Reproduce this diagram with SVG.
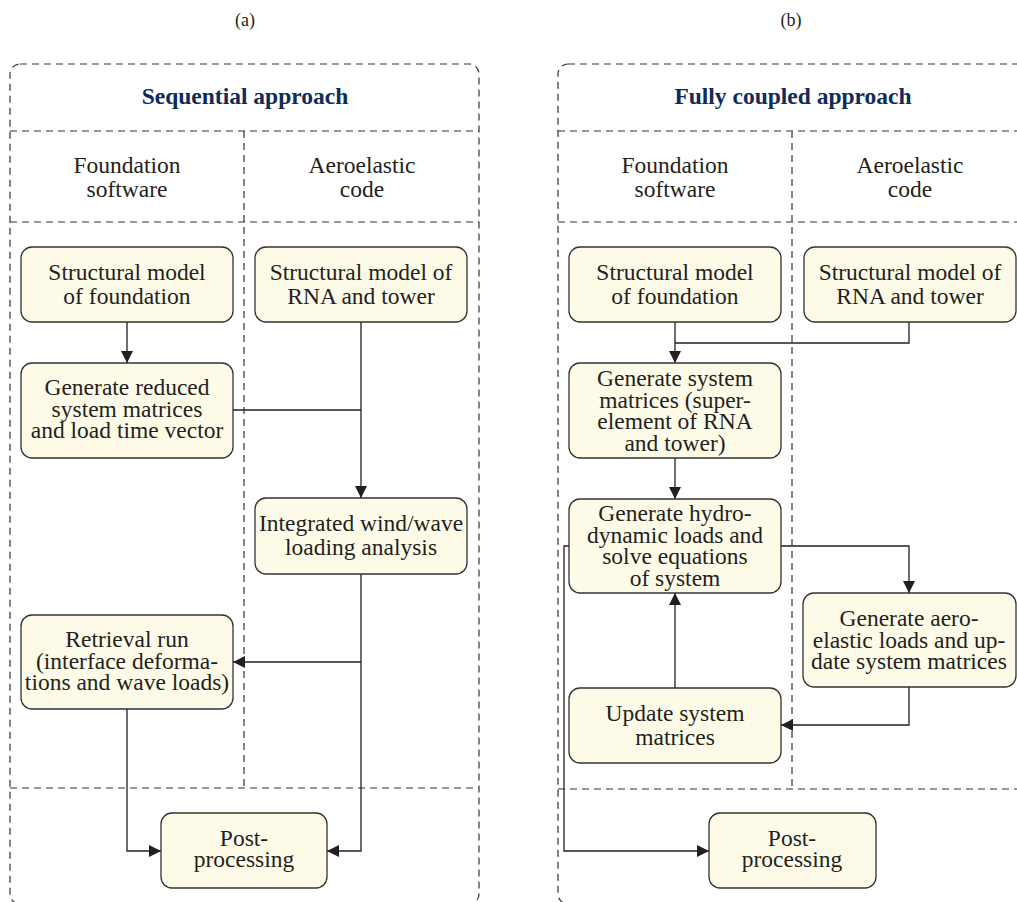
<svg xmlns="http://www.w3.org/2000/svg" width="1017" height="902" viewBox="0 0 1017 902">
<defs>
<marker id="ah" markerUnits="userSpaceOnUse" markerWidth="12" markerHeight="12" refX="12" refY="6" orient="auto">
<path d="M0,0 L12,6 L0,12 z" fill="#231f20"/>
</marker>
<style>
.t{font-family:"Liberation Serif","Times New Roman",serif;font-size:23.5px;fill:#231f20;text-anchor:middle}
.h{font-family:"Liberation Serif","Times New Roman",serif;font-size:23.5px;font-weight:bold;fill:#0f2b5b;text-anchor:middle}
.lbl{font-family:"Liberation Serif","Times New Roman",serif;font-size:18px;fill:#231f20;text-anchor:middle}
.d{fill:none;stroke:#333;stroke-width:1.2;stroke-dasharray:7 5}
.n{fill:#fdfbe8;stroke:#333;stroke-width:1.3}
.c{fill:none;stroke:#231f20;stroke-width:1.3}
.a{marker-end:url(#ah)}
</style>
</defs>
<rect width="1017" height="902" fill="#fff"/>
<text class="lbl" x="245" y="26">(a)</text>
<text class="lbl" x="791" y="26">(b)</text>

<g id="panel-a">
<rect class="d" x="10" y="64" width="469" height="840" rx="10"/>
<path class="d" d="M10,131 H479 M10,222 H479 M10,788 H479 M244,131 V788"/>
<text class="h" x="245" y="104">Sequential approach</text>
<text class="t" x="127" y="173">Foundation</text>
<text class="t" x="127" y="197">software</text>
<text class="t" x="362" y="173">Aeroelastic</text>
<text class="t" x="362" y="197">code</text>
</g>

<g id="panel-b">
<rect class="d" x="558" y="64" width="600" height="840" rx="10"/>
<path class="d" d="M558,131 H1017 M558,222 H1017 M558,789 H1017 M792,131 V789"/>
<text class="h" x="793" y="104">Fully coupled approach</text>
<text class="t" x="675" y="173">Foundation</text>
<text class="t" x="675" y="197">software</text>
<text class="t" x="910" y="173">Aeroelastic</text>
<text class="t" x="910" y="197">code</text>
</g>

<g id="connectors">
<path class="c a" d="M127,322 V363"/>
<path class="c a" d="M361,322 V498"/>
<path class="c" d="M233,410 H361"/>
<path class="c a" d="M361,574 V851 H327"/>
<path class="c a" d="M361,662 H233"/>
<path class="c a" d="M127,709 V851 H161"/>
<path class="c a" d="M675,322 V363"/>
<path class="c" d="M909,322 V343 H675"/>
<path class="c a" d="M675,458 V499"/>
<path class="c a" d="M781,546 H909 V593"/>
<path class="c a" d="M569,546 H564 V851 H709"/>
<path class="c a" d="M675,688 V593"/>
<path class="c a" d="M909,687 V725 H781"/>
</g>

<g id="a-struct-foundation">
<rect class="n" x="21" y="247" width="212" height="75" rx="11"/>
<text class="t" x="127" y="280">Structural model</text>
<text class="t" x="127" y="304">of foundation</text>
</g>
<g id="a-struct-rna">
<rect class="n" x="255" y="247" width="212" height="75" rx="11"/>
<text class="t" x="361" y="280">Structural model of</text>
<text class="t" x="361" y="304">RNA and tower</text>
</g>
<g id="a-generate-reduced">
<rect class="n" x="21" y="363" width="212" height="95" rx="11"/>
<text class="t" x="127" y="395">Generate reduced</text>
<text class="t" x="127" y="416.5">system matrices</text>
<text class="t" x="127" y="438">and load time vector</text>
</g>
<g id="a-integrated">
<rect class="n" x="255" y="498" width="212" height="76" rx="11"/>
<text class="t" x="361" y="531">Integrated wind/wave</text>
<text class="t" x="361" y="554.5">loading analysis</text>
</g>
<g id="a-retrieval">
<rect class="n" x="21" y="615" width="212" height="94" rx="11"/>
<text class="t" x="127" y="647">Retrieval run</text>
<text class="t" x="127" y="668.5">(interface deforma-</text>
<text class="t" x="127" y="690">tions and wave loads)</text>
</g>
<g id="a-post">
<rect class="n" x="161" y="813" width="166" height="75" rx="11"/>
<text class="t" x="244" y="846">Post-</text>
<text class="t" x="244" y="867">processing</text>
</g>

<g id="b-struct-foundation">
<rect class="n" x="569" y="247" width="212" height="75" rx="11"/>
<text class="t" x="675" y="280">Structural model</text>
<text class="t" x="675" y="304">of foundation</text>
</g>
<g id="b-struct-rna">
<rect class="n" x="804" y="247" width="212" height="75" rx="11"/>
<text class="t" x="910" y="280">Structural model of</text>
<text class="t" x="910" y="304">RNA and tower</text>
</g>
<g id="b-generate-system">
<rect class="n" x="569" y="363" width="212" height="95" rx="11"/>
<text class="t" x="675" y="386">Generate system</text>
<text class="t" x="675" y="407.5">matrices (super-</text>
<text class="t" x="675" y="429">element of RNA</text>
<text class="t" x="675" y="450.5">and tower)</text>
</g>
<g id="b-hydro">
<rect class="n" x="569" y="499" width="212" height="94" rx="11"/>
<text class="t" x="675" y="521">Generate hydro-</text>
<text class="t" x="675" y="542.5">dynamic loads and</text>
<text class="t" x="675" y="564">solve equations</text>
<text class="t" x="675" y="585.5">of system</text>
</g>
<g id="b-aero">
<rect class="n" x="803" y="593" width="213" height="94" rx="11"/>
<text class="t" x="909" y="626">Generate aero-</text>
<text class="t" x="909" y="647.5">elastic loads and up-</text>
<text class="t" x="909" y="669">date system matrices</text>
</g>
<g id="b-update">
<rect class="n" x="569" y="688" width="212" height="75" rx="11"/>
<text class="t" x="675" y="721">Update system</text>
<text class="t" x="675" y="744.5">matrices</text>
</g>
<g id="b-post">
<rect class="n" x="709" y="813" width="167" height="75" rx="11"/>
<text class="t" x="792" y="846">Post-</text>
<text class="t" x="792" y="867">processing</text>
</g>
</svg>
